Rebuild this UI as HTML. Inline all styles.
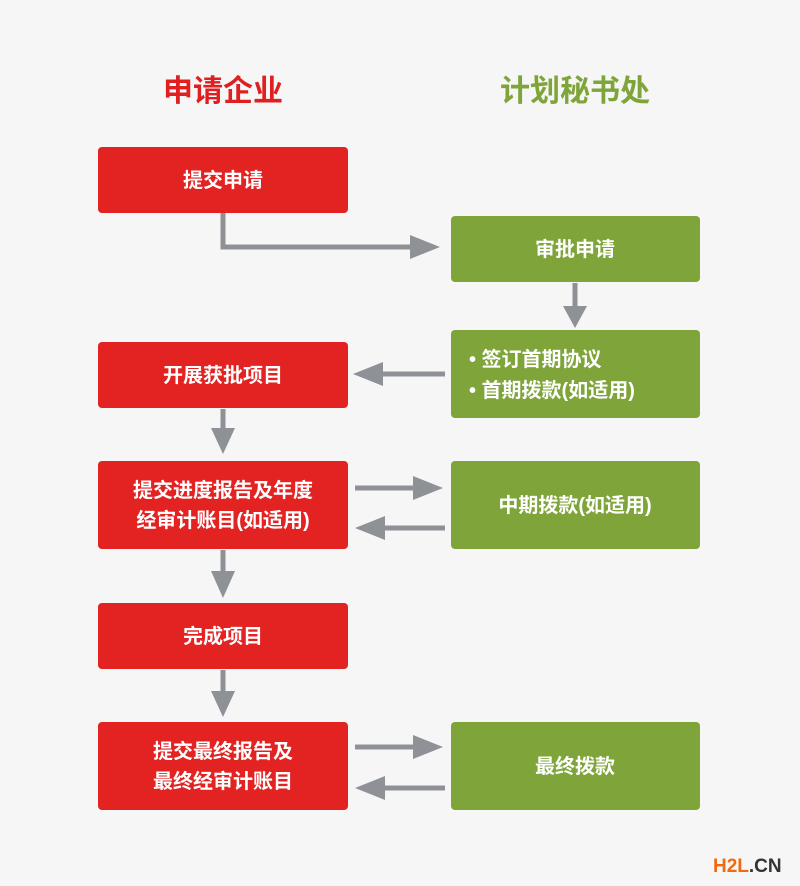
<!DOCTYPE html>
<html><head><meta charset="utf-8"><style>
html,body{margin:0;padding:0;background:#f6f6f6;}
svg{display:block;}
text{font-family:"Liberation Sans","Noto Sans CJK SC",sans-serif;}
</style></head><body>
<svg width="800" height="886" viewBox="0 0 800 886" xmlns="http://www.w3.org/2000/svg">
<rect width="800" height="886" fill="#f6f6f6"/>
<text x="223" y="101" font-size="30" fill="#e02020" text-anchor="middle" font-weight="600">申请企业</text>
<text x="575" y="101" font-size="30" fill="#7fa53a" text-anchor="middle" font-weight="600">计划秘书处</text>
<g fill="#e32222">
<rect x="98" y="147" width="250" height="66" rx="4"/>
<rect x="98" y="342" width="250" height="66" rx="4"/>
<rect x="98" y="461" width="250" height="88" rx="4"/>
<rect x="98" y="603" width="250" height="66" rx="4"/>
<rect x="98" y="722" width="250" height="88" rx="4"/>
</g>
<g fill="#7fa53a">
<rect x="451" y="216" width="249" height="66" rx="4"/>
<rect x="451" y="330" width="249" height="88" rx="4"/>
<rect x="451" y="461" width="249" height="88" rx="4"/>
<rect x="451" y="722" width="249" height="88" rx="4"/>
</g>
<g fill="#fff" font-size="20" text-anchor="middle" font-weight="bold">
<text x="223" y="187">提交申请</text>
<text x="223" y="382">开展获批项目</text>
<text x="223" y="497">提交进度报告及年度</text>
<text x="223" y="527">经审计账目(如适用)</text>
<text x="223" y="643">完成项目</text>
<text x="223" y="758">提交最终报告及</text>
<text x="223" y="788">最终经审计账目</text>
<text x="575" y="256">审批申请</text>
<text x="575" y="512">中期拨款(如适用)</text>
<text x="575" y="773">最终拨款</text>
<text x="469" y="366" text-anchor="start">• 签订首期协议</text>
<text x="469" y="397" text-anchor="start">• 首期拨款(如适用)</text>
</g>
<g stroke="#8e9196" stroke-width="5" fill="none">
<polyline points="223,213 223,247 415,247"/>
<line x1="575" y1="283" x2="575" y2="310"/>
<line x1="445" y1="374" x2="378" y2="374"/>
<line x1="355" y1="488" x2="418" y2="488"/>
<line x1="445" y1="528" x2="380" y2="528"/>
<line x1="223" y1="409" x2="223" y2="432"/>
<line x1="223" y1="550" x2="223" y2="575"/>
<line x1="223" y1="670" x2="223" y2="695"/>
<line x1="355" y1="747" x2="418" y2="747"/>
<line x1="445" y1="788" x2="380" y2="788"/>
</g>
<g fill="#8e9196">
<polygon points="440,247 410,235 410,259"/>
<polygon points="575,328 563,306 587,306"/>
<polygon points="353,374 383,362 383,386"/>
<polygon points="443,488 413,476 413,500"/>
<polygon points="355,528 385,516 385,540"/>
<polygon points="223,454 211,428 235,428"/>
<polygon points="223,598 211,571 235,571"/>
<polygon points="223,717 211,691 235,691"/>
<polygon points="443,747 413,735 413,759"/>
<polygon points="355,788 385,776 385,800"/>
</g>
<text x="713" y="872" font-size="19" font-weight="bold" fill="#f26a10">H2L<tspan fill="#333">.CN</tspan></text>
</svg>
</body></html>
